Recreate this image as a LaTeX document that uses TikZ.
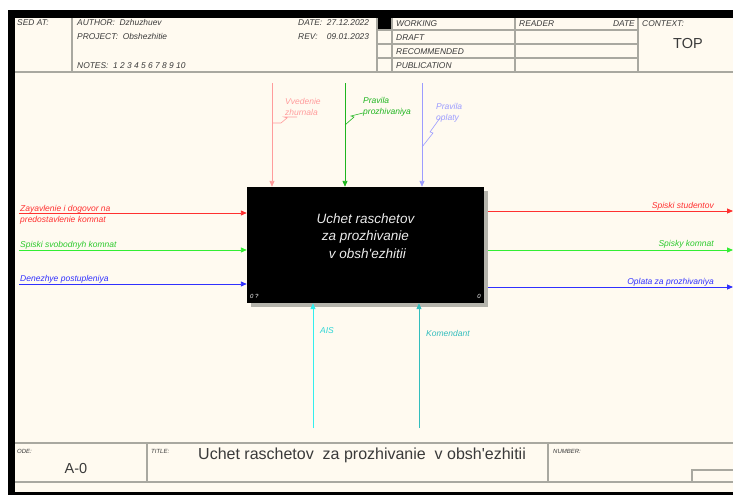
\documentclass[tikz,border=0pt]{standalone}
\usepackage{fontspec}
\setmainfont{Liberation Sans}
\usetikzlibrary{arrows.meta,shadows}
\definecolor{paper}{HTML}{FFFAF0}
\definecolor{rulegray}{HTML}{A9A8A0}
\definecolor{shadowgray}{HTML}{B4B3AB}
\definecolor{inkgray}{HTML}{3A3A3A}
\definecolor{ctlpink}{HTML}{FF9C9C}
\definecolor{ctlgreen}{HTML}{1FB51F}
\definecolor{ctlblue}{HTML}{9C9CFF}
\definecolor{inred}{HTML}{FF3030}
\definecolor{ingreen}{HTML}{33EE33}
\definecolor{inblue}{HTML}{3030FF}
\definecolor{mechcyan}{HTML}{33EEEE}
\definecolor{mechteal}{HTML}{33BDBD}
\begin{document}
\begin{tikzpicture}[
    x=1pt, y=-1pt,
    every node/.style={inner sep=0pt, font=\itshape\fontsize{8.5}{10.5}\selectfont},
    field/.style={anchor=base west, text=inkgray, font=\itshape\fontsize{8.4}{9}\selectfont},
    tiny/.style={anchor=base west, text=inkgray, font=\itshape\fontsize{6}{7}\selectfont},
    big/.style={text=inkgray, font=\fontsize{14.5}{16}\selectfont},
    frame/.style={draw=rulegray, line width=1.1pt},
    fnbox/.style={fill=black, minimum width=237pt, minimum height=116pt,
        drop shadow={shadow xshift=4pt, shadow yshift=-4pt, fill=shadowgray, opacity=1}},
    flow/.style={line width=0.9pt, -{Triangle[length=6pt,width=5pt]}},
    squiggle/.style={line width=0.6pt},
    lbl/.style={anchor=base west, align=left},
    rlbl/.style={anchor=base east, align=right}
]
    \useasboundingbox (0,0) rectangle (733,495);
    \fill[white] (0,0) rectangle (733,495);
    \fill[black] (8,10) rectangle (733,495);
    \fill[paper] (15,18) rectangle (733,492);

    \fill[black] (377,18) rectangle (392,30);
    \draw[frame] (15,72) -- (733,72);
    \draw[frame] (72,18) -- (72,72);
    \draw[frame] (377,18) -- (377,72);
    \draw[frame] (392,18) -- (392,72);
    \draw[frame] (515,18) -- (515,72);
    \draw[frame] (638,18) -- (638,72);
    \draw[frame] (377,30) -- (638,30);
    \draw[frame] (377,44) -- (638,44);
    \draw[frame] (377,58) -- (638,58);
    \draw[frame] (15,443) -- (733,443);
    \draw[frame] (15,482) -- (733,482);
    \draw[frame] (147,443) -- (147,482);
    \draw[frame] (548,443) -- (548,482);
    \draw[frame] (692,482) -- (692,470) -- (733,470);

    \node[field] (usedat) at (17,26) {SED AT:};
    \node[field] (author) at (77,26) {AUTHOR:\ \ Dzhuzhuev};
    \node[field] (project) at (77,40) {PROJECT:\ \ Obshezhitie};
    \node[field] (notes) at (77,68) {NOTES:\ \ 1\ 2\ 3\ 4\ 5\ 6\ 7\ 8\ 9\ 10};
    \node[field] (date) at (298,26) {DATE:\ \ 27.12.2022};
    \node[field] (rev) at (298,40) {REV:\ \ \ \ 09.01.2023};
    \node[field] (working) at (396,27) {WORKING};
    \node[field] (draft) at (396,41) {DRAFT};
    \node[field] (recom) at (396,55) {RECOMMENDED};
    \node[field] (public) at (396,68) {PUBLICATION};
    \node[field] (reader) at (519,27) {READER};
    \node[field, anchor=base east] (rdate) at (635,27) {DATE};
    \node[field] (context) at (642,27) {CONTEXT:};
    \node[big] (top) at (688,44) {TOP};

    \node[tiny] (nodelbl) at (17,453) {ODE:};
    \node[big] (nodeno) at (76,469) {A-0};
    \node[tiny] (titlelbl) at (151,453) {TITLE:};
    \node[big, anchor=base west, font=\fontsize{16}{18}\selectfont] (title) at (198,459) {Uchet raschetov\ \ za prozhivanie\ \ v obsh\textquotesingle ezhitii};
    \node[tiny] (numberlbl) at (553,453) {NUMBER:};

    \node[fnbox] (fn) at (365.5,245) {};
    \node[align=center, text=black!8, font=\itshape\fontsize{13.5}{17.5}\selectfont] (fntext) at ([yshift=9pt]fn.center) {Uchet raschetov\\za prozhivanie\\\ v obsh\textquotesingle ezhitii};
    \node[tiny, text=white] (fnno) at (250,298) {0 ?};
    \node[tiny, text=white, anchor=base east] (fncost) at (481,298) {0};

    \coordinate (c1) at (272,83);
    \coordinate (c2) at (345,83);
    \coordinate (c3) at (422,83);
    \coordinate (i1) at (19,213);
    \coordinate (i2) at (19,250);
    \coordinate (i3) at (19,284);
    \coordinate (o1) at (733,211);
    \coordinate (o2) at (733,250);
    \coordinate (o3) at (733,287);
    \coordinate (m1) at (313,428);
    \coordinate (m2) at (419,428);

    \node[lbl, text=ctlpink] (c1lbl) at (285,115) {Vvedenie\\zhurnala};
    \node[lbl, text=ctlgreen] (c2lbl) at (363,114) {Pravila\\prozhivaniya};
    \node[lbl, text=ctlblue] (c3lbl) at (436,120) {Pravila\\oplaty};
    \node[lbl, text=inred] (i1lbl) at (20,222) {Zayavlenie i dogovor na\\predostavlenie komnat};
    \node[lbl, text=ingreen!85!black] (i2lbl) at (20,247) {Spiski svobodnyh komnat};
    \node[lbl, text=inblue] (i3lbl) at (20,281) {Denezhye postupleniya};
    \node[rlbl, text=inred] (o1lbl) at (714,208) {Spiski studentov};
    \node[rlbl, text=ingreen!85!black] (o2lbl) at (714,246) {Spisky komnat};
    \node[rlbl, text=inblue] (o3lbl) at (714,284) {Oplata za prozhivaniya};
    \node[lbl, text=mechcyan!90!black] (m1lbl) at (320,333) {AIS};
    \node[lbl, text=mechteal] (m2lbl) at (426,336) {Komendant};

    \draw[flow, ctlpink] (c1) -- (c1 |- fn.north);
    \draw[flow, ctlgreen] (c2) -- (c2 |- fn.north);
    \draw[flow, ctlblue] (c3) -- (c3 |- fn.north);
    \draw[flow, inred] (i1) -- (i1 -| fn.west);
    \draw[flow, ingreen] (i2) -- (i2 -| fn.west);
    \draw[flow, inblue] (i3) -- (i3 -| fn.west);
    \draw[flow, inred] ([xshift=4pt]o1 -| fn.east) -- (o1);
    \draw[flow, ingreen] ([xshift=4pt]o2 -| fn.east) -- (o2);
    \draw[flow, inblue] ([xshift=4pt]o3 -| fn.east) -- (o3);
    \draw[flow, mechcyan] (m1) -- (m1 |- fn.south);
    \draw[flow, mechteal] (m2) -- (m2 |- fn.south);

    \draw[squiggle, ctlpink] (272,123) -- (281,123) -- (287,118) -- (284,117) -- (297,117);
    \draw[squiggle, ctlgreen] (345,125) -- (354,117) -- (351,116) -- (363,113);
    \draw[squiggle, ctlblue] (422,147) -- (433,133) -- (430,132) -- (440,118);
\end{tikzpicture}
\end{document}
